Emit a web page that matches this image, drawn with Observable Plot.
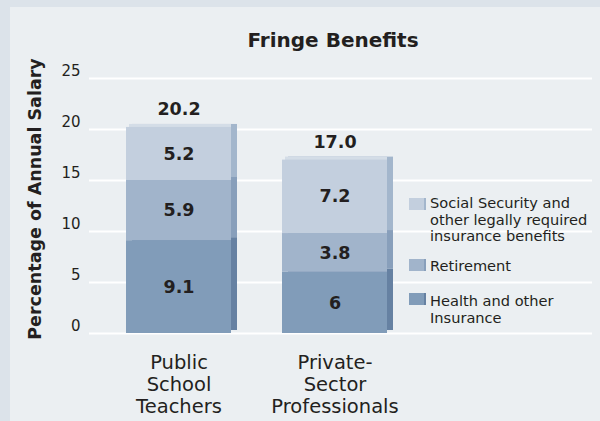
<!DOCTYPE html>
<html><head><meta charset="utf-8">
<script src="https://cdn.jsdelivr.net/npm/d3@7"></script>
<script src="https://cdn.jsdelivr.net/npm/@observablehq/plot@0.6"></script>
<style>
html,body{margin:0;padding:0;background:#dce3ea;}
#wrap{position:relative;width:600px;height:421px;overflow:hidden;}
#panel{position:absolute;left:10px;top:7px;right:0;bottom:0;background:#ebeff2;}
#chart{position:absolute;left:0;top:0;}
.leg{position:absolute;left:409px;font-family:"DejaVu Sans";font-size:14.6px;color:#231f20;line-height:16.5px;}
.sw{position:absolute;left:0;width:15px;height:12px;border-right:2px solid;}
.lt{position:absolute;left:21px;white-space:pre;}
</style></head>
<body><div id="wrap"><div id="panel"></div><div id="chart"></div></div>
<script>
const groups = ["Public School Teachers", "Private-Sector Professionals"];
const groupLabels = ["Public\nSchool\nTeachers", "Private-\nSector\nProfessionals"];
const series = ["Health and other Insurance", "Retirement", "Social Security and other legally required insurance benefits"];
const seriesLabels = ["Health and other\nInsurance", "Retirement", "Social Security and\nother legally required\ninsurance benefits"];
const health = [9.1, 6];
const retirement = [5.9, 3.8];
const socialSecurity = [5.2, 7.2];
const totals = [20.2, 17.0];
const yTicks = [0, 5, 10, 15, 20, 25];

const frontColors = ["#819cb9", "#a1b4cb", "#c3cfde"];
const sideColors = ["#6681a2", "#889fbb", "#a3b6cc"];
const topColor = "#d4dde7";
const ink = "#231f20";

const rows = [];
groups.forEach((g, i) => {
  [health, retirement, socialSecurity].forEach((arr, s) => rows.push({group: g, series: series[s], s, value: arr[i]}));
});
const totalRows = groups.map((g, i) => ({group: g, total: totals[i]}));

const chart = Plot.plot({
  width: 600, height: 421,
  marginTop: 78, marginBottom: 88, marginLeft: 89, marginRight: 8,
  style: {background: "transparent", fontFamily: "DejaVu Sans", color: ink, overflow: "visible"},
  x: {domain: groups, range: [126, 387], paddingInner: 0.33, paddingOuter: 0, label: null},
  y: {domain: [0, 25], label: null},
  color: {type: "identity"},
  marks: [
    Plot.ruleY(yTicks, {stroke: "#ffffff", strokeWidth: 2}),
    Plot.barY(rows, Plot.stackY({x: "group", y: "value", fill: d => sideColors[d.s], dx: 6, dy: -3})),
    Plot.barY(rows, Plot.stackY({x: "group", y: "value", fill: d => d.s === 2 ? topColor : "none", dx: 3, dy: -3, insetRight: 3})),
    Plot.barY(rows, Plot.stackY({x: "group", y: "value", fill: d => frontColors[d.s]})),
    Plot.text(rows, Plot.stackY({x: "group", y: "value", text: d => String(d.value), fontSize: 17.5, fontWeight: "bold", fill: ink})),
    Plot.text(totalRows, {x: "group", y: "total", text: d => d.total.toFixed(1), dy: -18, fontSize: 17.5, fontWeight: "bold", fill: ink}),
    Plot.axisY(yTicks, {tickSize: 0, tickPadding: 9, dy: -7, fontSize: 15, label: null}),
    Plot.axisX({tickSize: 0, tickPadding: 20, fontSize: 19.5, lineHeight: 1.13, tickFormat: g => groupLabels[groups.indexOf(g)], label: null}),
    Plot.text(["Percentage of Annual Salary"], {frameAnchor: "left", rotate: -90, textAnchor: "middle", dx: -54, dy: -7, fontSize: 17.5, fontWeight: "bold", fill: ink}),
    Plot.text(["Fringe Benefits"], {frameAnchor: "top", lineAnchor: "middle", dx: -8, dy: -38, fontSize: 20, fontWeight: "bold", fill: ink})
  ]
});
document.getElementById("chart").appendChild(chart);

// Legend (HTML overlay inside the plot area)
const legendTops = [293, 258, 195];
const swatchOffsets = [0, 1, 3];
const wrap = document.getElementById("wrap");
series.forEach((s, i) => {
  const item = document.createElement("div");
  item.className = "leg";
  item.style.top = legendTops[i] + "px";
  const sw = document.createElement("div");
  sw.className = "sw";
  sw.style.top = swatchOffsets[i] + "px";
  sw.style.background = frontColors[i];
  sw.style.borderRightColor = sideColors[i];
  const t = document.createElement("div");
  t.className = "lt";
  t.textContent = seriesLabels[i];
  item.appendChild(sw);
  item.appendChild(t);
  wrap.appendChild(item);
});
</script>
</body></html>
